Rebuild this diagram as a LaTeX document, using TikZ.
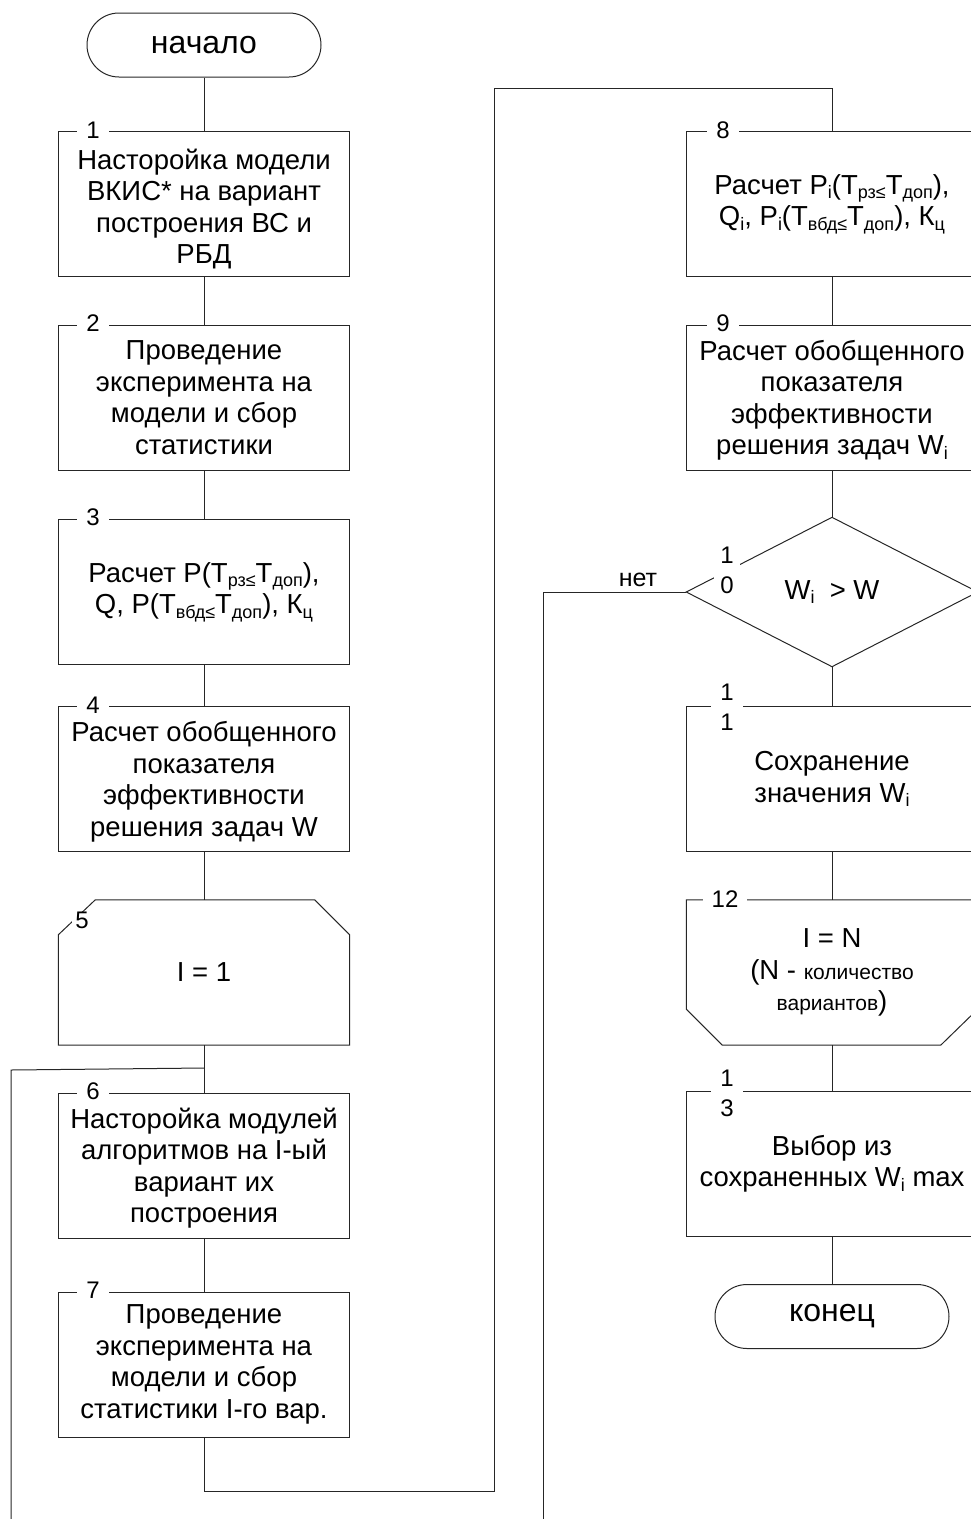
\documentclass[tikz,border=0pt]{standalone}
\usepackage{fontspec}
\setmainfont{Liberation Sans}
\newcommand{\sbx}[1]{\raisebox{-4.5pt}{\fontsize{18}{18}\selectfont #1}}
\begin{document}
\begin{tikzpicture}[x=1pt,y=-1pt,
  line/.style={draw=black!85,line width=1pt},
  blk/.style={line,minimum width=291pt,minimum height=145pt,inner sep=0pt,align=center,font=\fontsize{27.5}{31.5}\selectfont},
  ghost/.style={minimum width=291pt,minimum height=145pt,inner sep=0pt,align=center,font=\fontsize{27.5}{31.5}\selectfont},
  term/.style={line,rounded corners=32pt,minimum width=234pt,minimum height=64pt,inner sep=0pt,font=\fontsize{32}{36}\selectfont},
  lbl/.style={fill=white,inner xsep=9pt,inner ysep=0pt,font=\fontsize{24}{30}\selectfont,align=center}]
\useasboundingbox (0,0) rectangle (971,1519);
\clip (0,0) rectangle (971,1519);
% left column
\node[term] (start) at (204,45) {начало};
\node[blk] (b1) at (204,204) {\rule{0pt}{30pt}Насторойка модели\\ВКИС* на вариант\\построения ВС и\\РБД};
\node[blk] (b2) at (204,397.5) {Проведение\\эксперимента на\\модели и сбор\\статистики};
\node[blk] (b3) at (204,592) {Расчет P(T\sbx{рз≤}T\sbx{доп}),\\Q, P(T\sbx{вбд≤}T\sbx{доп}), К\sbx{ц}};
\node[blk] (b4) at (204,779) {\rule{0pt}{26pt}Расчет обобщенного\\показателя\\эффективности\\решения задач W};
\node[ghost] (b5) at (204,972.5) {I = 1};
\draw[line] ([yshift=-35pt]b5.north west) -- ([xshift=37pt]b5.north west) -- ([xshift=-35pt]b5.north east) -- ([yshift=-35pt]b5.north east) -- (b5.south east) -- (b5.south west) -- cycle;
\node[blk] (b6) at (204,1165.5) {\rule{0pt}{26pt}Насторойка модулей\\алгоритмов на I-ый\\вариант их\\построения};
\node[blk] (b7) at (204,1364.5) {Проведение\\эксперимента на\\модели и сбор\\статистики I-го вар.};
% right column
\node[blk] (b8) at (832,204) {Расчет P\sbx{i}(T\sbx{рз≤}T\sbx{доп}),\\Q\sbx{i}, P\sbx{i}(T\sbx{вбд≤}T\sbx{доп}), К\sbx{ц}};
\node[blk] (b9) at (832,397.5) {\rule{0pt}{26pt}Расчет обобщенного\\показателя\\эффективности\\решения задач W\sbx{i}};
\node[ghost,minimum height=149pt] (d10) at (832,592) {W\sbx{i}\ \ > W};
\draw[line] (d10.north) -- (d10.east) -- (d10.south) -- (d10.west) -- cycle;
\node[blk] (b11) at (832,779) {Сохранение\\значения W\sbx{i}};
\node[ghost] (b12) at (832,972.5) {I = N\\(N - {\fontsize{21}{21}\selectfont количество}\\{\fontsize{21}{21}\selectfont вариантов})};
\draw[line] (b12.north west) -- (b12.north east) -- ([yshift=36pt]b12.south east) -- ([xshift=-37pt]b12.south east) -- ([xshift=36pt]b12.south west) -- ([yshift=36pt]b12.south west) -- cycle;
\node[blk] (b13) at (832,1164) {Выбор из\\сохраненных W\sbx{i} max};
\node[term] (end) at (832,1316.5) {конец};
% connectors
\draw[line] (start) -- (b1);
\draw[line] (b1) -- (b2);
\draw[line] (b2) -- (b3);
\draw[line] (b3) -- (b4);
\draw[line] (b4) -- (b5);
\draw[line] (b5.south) -- (b6.north);
\draw[line] (b6) -- (b7);
\coordinate (p1) at (494,1491);
\coordinate (p2) at (494,88);
\draw[line] (b7.south) |- (p1) -- (p2) -| (b8.north);
\draw[line] (b8) -- (b9);
\draw[line] (b9.south) -- (d10.north);
\draw[line] (d10.south) -- (b11.north);
\draw[line] (b11) -- (b12);
\draw[line] (b12.south) -- (b13.north);
\draw[line] (b13) -- (end);
\coordinate (q1) at (543,1519);
\draw[line] (d10.west) -| (q1);
\coordinate (r1) at (11,1519);
\coordinate (r2) at (11,1070);
\coordinate (r3) at (204,1068);
\draw[line] (r1) -- (r2) -- (r3);
% labels
\node[lbl] (l1) at (93,130) {1};
\node[lbl] (l2) at (93,323) {2};
\node[lbl] (l3) at (93,517) {3};
\node[lbl] (l4) at (93,705) {4};
\node[lbl,inner xsep=3pt] (l5) at (82,920) {5};
\node[lbl] (l6) at (93,1091) {6};
\node[lbl] (l7) at (93,1290) {7};
\node[lbl] (l8) at (723,130) {8};
\node[lbl] (l9) at (723,323) {9};
\node[lbl,inner xsep=6pt] (l10) at (727,570) {1\\0};
\node[lbl] (l11) at (727,707) {1\\1};
\node[lbl] (l12) at (725,899) {12};
\node[lbl] (l13) at (727,1093) {1\\3};
\node[font=\fontsize{25}{25}\selectfont,anchor=south] (net) at (638,590) {нет};
\end{tikzpicture}
\end{document}
